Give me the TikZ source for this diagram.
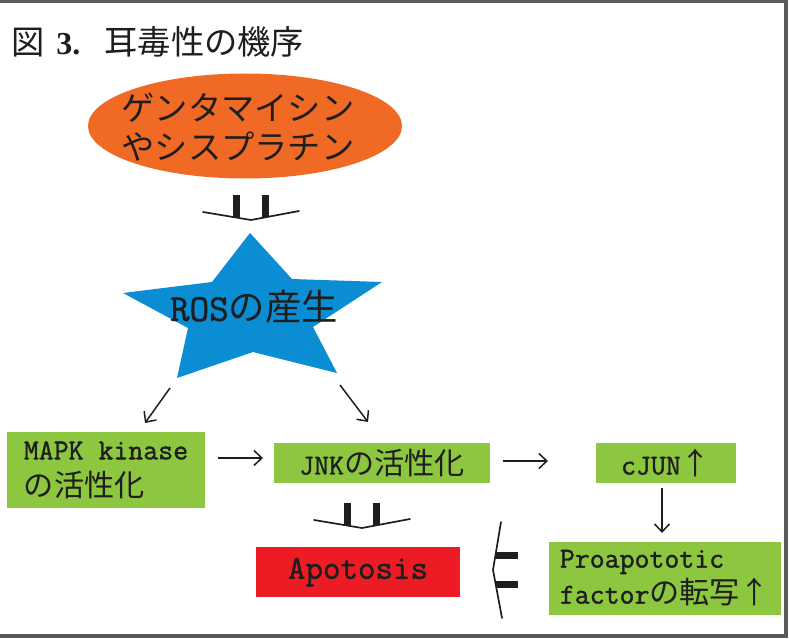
\documentclass[tikz,border=0pt]{standalone}
\usepackage{fontspec}
\usetikzlibrary{arrows.meta,shapes.geometric}
\newfontfamily\jpf[Scale=1.04]{Noto Sans CJK JP}
\newfontfamily\serb{Liberation Serif}
\newfontfamily\monof[FakeBold=1.3]{Latin Modern Mono}
\newcommand\jtxt[1]{{\jpf #1}}
\newcommand\monot[1]{{\monof #1}}
\definecolor{orng}{HTML}{F16A25}
\definecolor{starblue}{HTML}{0B8DD3}
\definecolor{grn}{HTML}{8DC63F}
\definecolor{redbox}{HTML}{ED1C24}
\definecolor{txt}{HTML}{1E1E1E}
\definecolor{frame}{HTML}{5A5A5A}
\tikzset{
  gbox/.style={fill=grn, draw=none, inner sep=0pt, text=txt},
  arr/.style={-{Straight Barb[length=8pt,width=15pt]}, line width=1.5pt, draw=txt},
  fatarrow/.pic={
    \fill[txt] (-18,-25) rectangle (-11,-3);
    \fill[txt] (11,-25) rectangle (18,-3);
    \draw[txt, line width=1.7pt, line join=round, line cap=round] (-48,-8) -- (0,0) -- (48,-9);
  }
}
\begin{document}
\begin{tikzpicture}[x=1pt,y=-1pt]
\useasboundingbox (0,0) rectangle (789,639);
\fill[white] (0,0) rectangle (789,639);
% frame
\draw[frame, line width=3pt] (0,1.5) -- (786,1.5);
\draw[frame, line width=4.5pt] (786,0) -- (786,636);
\draw[frame, line width=4.5pt] (0,636) -- (788,636);

% title
\node[anchor=west, inner sep=0pt, text=txt, font=\fontsize{32}{36}\selectfont] (title) at (11,42)
  {\jtxt{図}\hspace{12pt}{\serb\bfseries 3.}\hspace{24pt}\jtxt{耳毒性の機序}};

% ellipse
\node[ellipse, fill=orng, draw=none, minimum width=314pt, minimum height=105pt, inner sep=0pt] (drug) at (245,126) {};
\node[text=txt, align=center, inner sep=0pt, font=\jpf\fontsize{32}{39}\selectfont] (drugtxt) at (238,127)
  {ゲンタマイシン\\やシスプラチン};

% star
\fill[starblue] (250,233) -- (292,279) -- (382,282) -- (313,327) -- (337,373) -- (253,352)
  -- (177,378) -- (188,328) -- (123,293) -- (212,282) -- cycle;
\node[text=txt, inner sep=0pt, font=\fontsize{35}{40}\selectfont] (ros) at (254,307)
  {\monot{\fontsize{38}{40}\selectfont ROS}\jtxt{の産生}};

% boxes
\node[gbox, minimum width=198pt, minimum height=76pt, align=left, font=\fontsize{29}{37}\selectfont] (mapk) at (106,470)
  {\monot{MAPK kinase}\\\jtxt{の活性化}};
\node[gbox, minimum width=216pt, minimum height=40pt, font=\fontsize{29}{34}\selectfont] (jnk) at (382,463)
  {\monot{JNK}\jtxt{の活性化}};
\node[gbox, minimum width=140pt, minimum height=40pt, font=\fontsize{29}{34}\selectfont] (cjun) at (666,463)
  {\monot{cJUN}\jtxt{↑}};
\node[gbox, minimum width=232pt, minimum height=73pt, align=left, font=\fontsize{29}{36}\selectfont] (proapo) at (665,578)
  {\monot{Proapototic}\\\monot{factor}\jtxt{の転写↑}};
\node[fill=redbox, draw=none, inner sep=0pt, text=txt, minimum width=204pt, minimum height=50pt, font=\monof\fontsize{34}{38}\selectfont] (apo) at (358,572)
  {Apotosis};

% arrow end points
\coordinate (s1a) at (170,388); \coordinate (s1b) at (145,423);
\coordinate (s2a) at (340,385); \coordinate (s2b) at (368,422);
\coordinate (m2ja) at (218,458); \coordinate (m2jb) at (263,458);
\coordinate (j2ca) at (503,461); \coordinate (j2cb) at (548,461);
\coordinate (c2pa) at (662,488); \coordinate (c2pb) at (662,533);
\draw[arr] (s1a) -- (s1b);
\draw[arr] (s2a) -- (s2b);
\draw[arr] (m2ja) -- (m2jb);
\draw[arr] (j2ca) -- (j2cb);
\draw[arr] (c2pa) -- (c2pb);

% fat double arrows
\coordinate (fa1) at (251,220);
\coordinate (fa2) at (362,528);
\coordinate (fa3) at (493,570);
\pic at (fa1) {fatarrow};
\pic at (fa2) {fatarrow};
\pic[rotate=-90] at (fa3) {fatarrow};
\end{tikzpicture}
\end{document}
